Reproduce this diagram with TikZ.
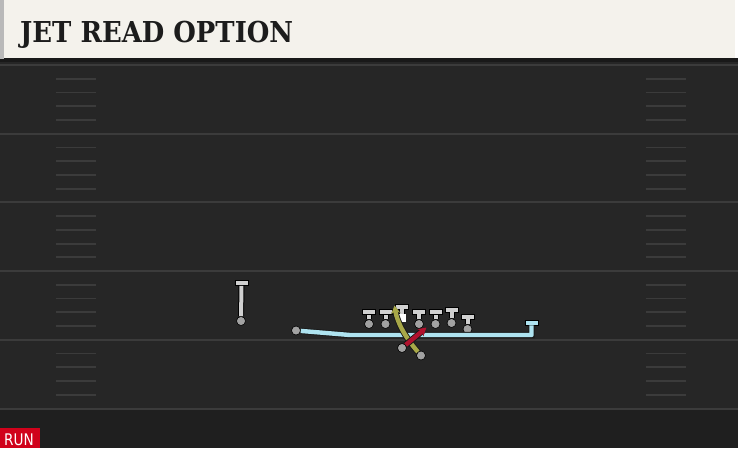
\documentclass[tikz,border=0pt]{standalone}
\usepackage{fontspec}
\usetikzlibrary{arrows.meta}
\newfontfamily\titlefont{DejaVu Serif}[FakeStretch=0.9]
\newfontfamily\badgefont{DejaVu Sans}[FakeStretch=0.85]

\definecolor{fieldbg}{HTML}{262626}
\definecolor{fieldlow}{HTML}{1F1F1F}
\definecolor{yardline}{HTML}{3B3B3B}
\definecolor{headercream}{HTML}{F4F2EC}
\definecolor{titleink}{HTML}{1C1C1C}
\definecolor{blockgray}{HTML}{D0D0D0}
\definecolor{dotgray}{HTML}{A2A2A2}
\definecolor{jetblue}{HTML}{AEE3F0}
\definecolor{readolive}{HTML}{A8A848}
\definecolor{passred}{HTML}{B0122E}
\definecolor{badgered}{HTML}{D0021B}

\tikzset{
  player/.style={circle, draw=black, line width=0.6pt, fill=dotgray, minimum size=9pt, inner sep=0pt},
  blockbar/.style={rectangle, draw=black, line width=0.7pt, fill=blockgray, minimum width=13pt, minimum height=5pt, inner sep=0pt},
  stem/.style={draw=blockgray, line width=4pt, preaction={draw=black, line width=6pt}},
  route/.style={line width=4.4pt, line join=round, preaction={draw=black!90, line width=6.2pt}},
}

\begin{document}
\begin{tikzpicture}[x=1pt, y=-1pt]
  \useasboundingbox (0,0) rectangle (738,448);

  % Field
  \fill[fieldbg] (0,58) rectangle (738,448);
  \fill[fieldlow] (0,409) rectangle (738,448);
  \fill[black!90] (0,58) rectangle (738,62);
  \foreach \k in {0,...,5} {
    \draw[yardline, line width=2pt] (0,65+68.7*\k) -- (738,65+68.7*\k);
  }
  \foreach \k in {0,...,4} {
    \foreach \h in {1,...,4} {
      \draw[yardline, line width=1.8pt] (56,65+68.7*\k+13.74*\h) -- (96,65+68.7*\k+13.74*\h);
      \draw[yardline, line width=1.8pt] (646,65+68.7*\k+13.74*\h) -- (686,65+68.7*\k+13.74*\h);
    }
  }

  % Header
  \fill[gray!55] (0,0) rectangle (4,59);
  \fill[headercream] (4,0) rectangle (735,58);
  \node[anchor=base west, inner sep=0pt, font=\titlefont\bfseries\fontsize{28.8}{30}\selectfont, text=titleink] (title) at (20,42.7) {JET READ OPTION};

  % Wide receiver
  \node[player] (wr) at (241,321) {};
  \node[blockbar] (wrbar) at (241.5,283) {};
  \draw[stem] (wr) -- (wrbar);

  % Offensive line
  \node[player] (lt) at (369,324) {};
  \node[blockbar] (ltbar) at (369,312) {};
  \node[player] (lg) at (385.5,324) {};
  \node[blockbar] (lgbar) at (385.5,312) {};
  \node[rectangle, fill=white, minimum size=8.5pt, inner sep=0pt] (ctr) at (401.5,318) {};
  \node[blockbar] (ctrbar) at (401.5,306.5) {};
  \node[player] (rg) at (419,324) {};
  \node[blockbar] (rgbar) at (419,311.5) {};
  \node[player] (rt) at (435.5,324) {};
  \node[blockbar] (rtbar) at (435.5,312) {};
  \node[player] (te) at (451.5,323) {};
  \node[blockbar] (tebar) at (451.5,309.5) {};
  \node[player] (wing) at (467.5,329) {};
  \node[blockbar] (wingbar) at (467.5,316.5) {};
  \draw[stem] (lt) -- (ltbar);
  \draw[stem] (lg) -- (lgbar);
  \draw[stem] (ctr) -- (ctrbar);
  \draw[stem] (rg) -- (rgbar);
  \draw[stem] (rt) -- (rtbar);
  \draw[stem] (te) -- (tebar);
  \draw[stem] (wing) -- (wingbar);

  % Backfield
  \node[player] (jet) at (296,330.5) {};
  \node[player] (qb) at (402,348) {};
  \node[player] (rb) at (421,355.5) {};

  % Jet motion
  \coordinate (jetbend) at (350,335);
  \coordinate (jetcorner) at (531.5,335);
  \node[blockbar, fill=jetblue] (jetbar) at (531.5,322.5) {};
  \draw[route, jetblue] (jet) -- (jetbend) -- (jetcorner) -- (jetbar);

  % Read and give
  \coordinate (readtip) at (394.5,305.5);
  \coordinate (givetip) at (426.5,327.5);
  \draw[route, readolive, -{Stealth[length=8pt, width=9pt]}] (rb) .. controls (405,337) and (397,322) .. (readtip);
  \draw[route, passred, -{Stealth[length=8pt, width=9pt]}] (qb) -- (givetip);

  % Badge
  \fill[badgered] (0,427.5) rectangle (40,448);
  \node[anchor=base west, inner sep=0pt, font=\badgefont\fontsize{16}{18}\selectfont, text=white] (run) at (4,445) {RUN};
\end{tikzpicture}
\end{document}
